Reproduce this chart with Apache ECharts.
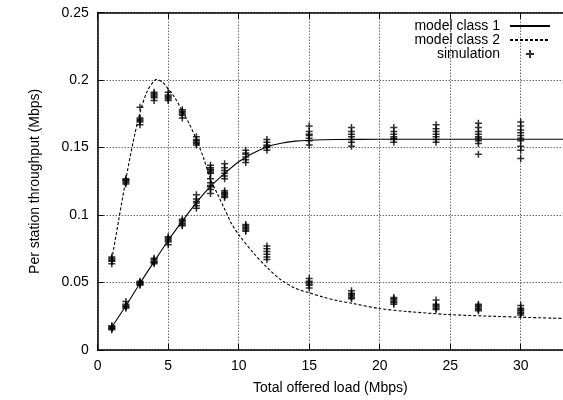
<!DOCTYPE html>
<html><head><meta charset="utf-8">
<script src="https://cdn.jsdelivr.net/npm/echarts@6/dist/echarts.min.js"></script>
<style>html,body{margin:0;padding:0;background:#fff}#c{width:563px;height:400px}</style>
</head><body><div id="c"></div>
<script>
// ---- data ----
var xTicks = [0, 5, 10, 15, 20, 25, 30];
var yTicks = [0, 0.05, 0.1, 0.15, 0.2, 0.25];
var model1 = [[1,0.017],[2,0.0328],[3,0.0495],[4,0.0655],[5,0.0812],[6,0.0955],[7,0.1092],[8,0.1212],[9,0.1308],[10,0.1395],[11,0.1458],[12,0.1505],[13,0.1532],[14,0.1548],[15,0.1555],[17,0.1560],[20,0.1562],[25,0.1562],[30,0.1562],[33,0.1562]];
var model2 = [[1,0.067],[1.5,0.097],[2,0.1265],[2.5,0.1535],[3,0.176],[3.5,0.1915],[4,0.1995],[4.2,0.2005],[4.6,0.1985],[5,0.1935],[5.5,0.1865],[6,0.177],[6.5,0.1675],[7,0.156],[7.5,0.1425],[8,0.1265],[8.5,0.1155],[9,0.1045],[9.5,0.0935],[10,0.0855],[11,0.0725],[12,0.0612],[13,0.052],[14,0.0458],[15,0.0424],[16,0.0392],[17,0.0366],[18,0.0347],[20,0.0307],[22,0.0285],[25,0.0262],[28,0.0250],[30,0.0243],[33,0.0234]];
var simX = [1, 2, 3, 4, 5, 6, 7, 8, 9, 10.5, 12, 15, 18, 21, 24, 27, 30];
var simClass1 = [
  [0.015,0.016,0.017,0.017,0.018,0.016],
  [0.031,0.032,0.033,0.034,0.036,0.032],
  [0.048,0.049,0.050,0.051,0.049,0.050],
  [0.064,0.065,0.066,0.067,0.068,0.065],
  [0.078,0.080,0.081,0.082,0.083,0.084],
  [0.092,0.093,0.094,0.095,0.096,0.097],
  [0.105,0.107,0.109,0.110,0.112,0.115],
  [0.116,0.119,0.121,0.122,0.124,0.127],
  [0.127,0.129,0.131,0.133,0.135,0.138],
  [0.139,0.141,0.143,0.145,0.146,0.148],
  [0.148,0.150,0.151,0.152,0.154,0.156],
  [0.152,0.155,0.157,0.159,0.160,0.162,0.166],
  [0.151,0.154,0.156,0.158,0.160,0.162,0.165],
  [0.154,0.156,0.157,0.158,0.160,0.162,0.165],
  [0.154,0.156,0.158,0.160,0.162,0.164,0.167],
  [0.145,0.153,0.155,0.157,0.158,0.160,0.162,0.165,0.168],
  [0.142,0.148,0.151,0.155,0.157,0.159,0.161,0.163,0.166,0.169]
];
var simClass2 = [
  [0.064,0.066,0.067,0.068,0.066,0.069],
  [0.123,0.125,0.126,0.127,0.124,0.126],
  [0.167,0.169,0.170,0.171,0.172,0.180],
  [0.185,0.187,0.188,0.189,0.190,0.191],
  [0.185,0.186,0.187,0.188,0.189,0.191],
  [0.172,0.174,0.175,0.176,0.177,0.178],
  [0.152,0.153,0.154,0.155,0.156,0.158],
  [0.131,0.132,0.133,0.134,0.135,0.137],
  [0.113,0.114,0.115,0.116,0.117,0.118],
  [0.088,0.089,0.090,0.091,0.092,0.093],
  [0.067,0.069,0.071,0.073,0.075,0.077],
  [0.046,0.048,0.049,0.050,0.051,0.053],
  [0.038,0.039,0.040,0.041,0.042,0.044],
  [0.034,0.035,0.036,0.037,0.038,0.039],
  [0.030,0.031,0.032,0.033,0.034,0.037],
  [0.029,0.030,0.031,0.032,0.033,0.034],
  [0.026,0.027,0.028,0.029,0.030,0.031,0.033]
];
// ---- build ----
var simData = [];
simX.forEach(function (x, i) {
  simClass1[i].forEach(function (y) { simData.push([x, y]); });
  simClass2[i].forEach(function (y) { simData.push([x, y]); });
});
var FONT = 'Liberation Sans, Arial, Helvetica, sans-serif';
var plus = 'path://M0,5L10,5M5,0L5,10';
var chart = echarts.init(document.getElementById('c'), null, {renderer: 'canvas'});
var gridLine = {show: true, lineStyle: {color: '#222', type: [1, 2], width: 1}};
var hiddenSym = {color: 'rgba(0,0,0,0)', borderColor: 'rgba(0,0,0,0)', borderWidth: 0};
chart.setOption({
  animation: false,
  backgroundColor: '#fff',
  textStyle: {fontFamily: FONT},
  grid: {left: 97.7, top: 12.7, height: 342.3, width: 471, containLabel: false},
  legend: {
    orient: 'vertical', right: 12, top: 19, align: 'right', padding: 0,
    itemWidth: 40, itemHeight: 8, itemGap: 0,
    textStyle: {fontFamily: FONT, fontSize: 14, lineHeight: 14, color: '#000', padding: [0, 5, 0, 0]},
    data: [
      {name: 'model class 1', itemStyle: hiddenSym},
      {name: 'model class 2', itemStyle: hiddenSym},
      {name: 'simulation'}
    ]
  },
  xAxis: [{
    type: 'value', min: 0, max: 33, interval: 5,
    name: 'Total offered load (Mbps)', nameLocation: 'middle', nameGap: 31,
    nameTextStyle: {fontFamily: FONT, fontSize: 14, color: '#000'},
    axisLine: {show: true, onZero: false, lineStyle: {color: '#000', width: 1.5}},
    axisTick: {show: true, inside: true, length: 6, lineStyle: {color: '#000', width: 1}},
    axisLabel: {fontFamily: FONT, fontSize: 14, color: '#000', margin: 9, showMaxLabel: false,
      formatter: function (v) { return xTicks.indexOf(v) >= 0 ? String(v) : ''; }},
    splitLine: gridLine
  }, {
    type: 'value', min: 0, max: 33, interval: 5, position: 'top',
    axisLine: {show: true, onZero: false, lineStyle: {color: '#000', width: 1.5}},
    axisTick: {show: true, inside: true, length: 6, lineStyle: {color: '#000', width: 1}},
    axisLabel: {show: false}, splitLine: {show: false}
  }],
  yAxis: {
    type: 'value', min: 0, max: 0.25, interval: 0.05,
    name: 'Per station throughput (Mbps)', nameLocation: 'middle', nameGap: 56,
    nameTextStyle: {fontFamily: FONT, fontSize: 14, color: '#000'},
    axisLine: {show: true, onZero: false, lineStyle: {color: '#000', width: 1.5}},
    axisTick: {show: true, inside: true, length: 6, lineStyle: {color: '#000', width: 1}},
    axisLabel: {fontFamily: FONT, fontSize: 14, color: '#000', margin: 9,
      formatter: function (v) {
        var r = Math.round(v * 100) / 100;
        return yTicks.indexOf(r) >= 0 ? String(r) : '';
      }},
    splitLine: gridLine
  },
  series: [{
    name: 'model class 1', type: 'line', data: model1, symbol: 'none', smooth: 0.3,
    lineStyle: {color: '#000', width: 1.1, type: 'solid'}, itemStyle: {color: '#000'}, z: 3
  }, {
    name: 'model class 2', type: 'line', data: model2, symbol: 'none', smooth: 0.3,
    lineStyle: {color: '#000', width: 1.1, type: [3, 2]}, itemStyle: {color: '#000'}, z: 3
  }, {
    name: 'simulation', type: 'scatter', data: simData, symbol: plus, symbolSize: 7,
    symbolKeepAspect: true,
    itemStyle: {color: 'rgba(0,0,0,0)', borderColor: '#000', borderWidth: 1.5}, z: 4
  }]
});
</script></body></html>
